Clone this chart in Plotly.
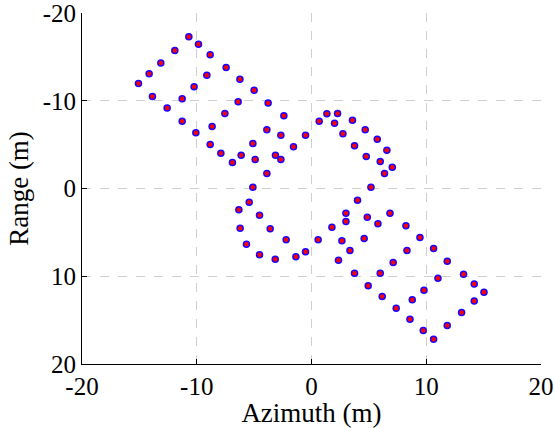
import plotly.graph_objects as go

azimuth = [-10.69, -9.85, -11.91, -8.83, -13.13, -7.44, -14.15, -9.12, -6.24, -15.08,
           -10.23, -13.86, -11.27, -6.39, -12.58, -7.55, -11.27, -8.66, -10.08, -8.83,
           -7.90, -6.13, -6.89, -5.00, -3.78, -2.41, -3.89, -2.67, -0.52, 0.67,
           1.34, 2.27, 2.01, 3.57, 4.68, 5.73, 2.74, -5.11, -1.57, 3.75,
           -4.91, -3.14, -2.67, 4.77, -3.89, -5.11, 5.18, 6.57, 5.99, 7.04,
           6.36, -6.33, -6.22, -5.67, -5.43, -4.53, -3.60, -2.21, -4.53, -3.16,
           -1.36, -0.52, 0.58, 1.78, 3.00, 3.00, 4.01, 4.86, 2.65, 4.59,
           3.35, 2.35, 3.75, 4.94, 6.84, 5.79, 8.23, 9.45, 8.32, 10.64,
           7.12, 11.83, 5.99, 13.25, 11.02, 14.18, 15.03, 9.80, 6.16, 8.78,
           14.18, 7.38, 13.08, 8.58, 11.83, 9.74, 10.64]
range_m = [-17.30, -16.45, -15.74, -15.25, -14.29, -13.80, -13.08, -12.92, -12.46, -11.97,
           -11.60, -10.49, -10.23, -9.89, -9.16, -8.55, -7.67, -7.07, -6.35, -5.02,
           -4.03, -3.80, -2.96, -11.21, -9.73, -8.29, -6.69, -6.08, -6.08, -7.67,
           -8.52, -8.55, -7.45, -7.79, -6.69, -5.62, -6.24, -5.13, -4.75, -4.87,
           -3.31, -3.80, -3.31, -3.65, -1.71, -0.15, -0.15, -4.37, -3.08, -2.43,
           -1.71, 2.43, 4.53, 6.35, 1.56, 3.04, 4.60, 5.85, 7.56, 8.06,
           7.79, 7.22, 5.85, 4.41, 2.82, 3.76, 1.33, 3.27, 5.96, 5.70,
           7.07, 8.18, 9.66, 11.09, 2.82, 4.03, 4.25, 5.59, 7.07, 6.84,
           8.44, 8.29, 9.66, 9.77, 10.23, 10.87, 11.82, 11.60, 12.31, 12.69,
           12.81, 13.65, 14.14, 14.90, 15.62, 16.19, 17.18]

tick_vals = [-20, -10, 0, 10, 20]
tick_text = ["-20", "-10", "0", "10", "20"]

SERIF = "Times New Roman, Liberation Serif, serif"

fig = go.Figure()
fig.add_trace(go.Scatter(x=azimuth, y=range_m, mode="markers",
                         marker=dict(size=7.5, color="#1a00ff", line=dict(width=0)),
                         showlegend=False, hoverinfo="skip"))
fig.add_trace(go.Scatter(x=azimuth, y=range_m, mode="markers",
                         marker=dict(size=4.5, color="#ff0000", line=dict(width=0)),
                         showlegend=False))

axis_common = dict(
    showline=True, linecolor="black", linewidth=1,
    ticks="inside", ticklen=5, tickcolor="black", tickwidth=1,
    showgrid=True, gridcolor="#cfcfcf", gridwidth=1, griddash="dash",
    zeroline=False, mirror=False, automargin=False,
    ticklabeloverflow="allow",
    tickfont=dict(family=SERIF, size=25, color="black"),
    tickvals=tick_vals, ticktext=tick_text,
)

fig.update_xaxes(range=[-20, 20], ticklabelstandoff=0,
                 title=dict(text="Azimuth (m)", font=dict(family=SERIF, size=27, color="black"), standoff=0),
                 **axis_common)
fig.update_yaxes(range=[20, -20], ticklabelstandoff=0,
                 title=dict(text="Range (m)", font=dict(family=SERIF, size=27, color="black"), standoff=6),
                 **axis_common)

fig.update_layout(
    width=555, height=428,
    margin=dict(l=82, r=14, t=13, b=64),
    paper_bgcolor="white", plot_bgcolor="white",
    font=dict(family=SERIF, color="black"),
)

fig.write_html("out.html")
